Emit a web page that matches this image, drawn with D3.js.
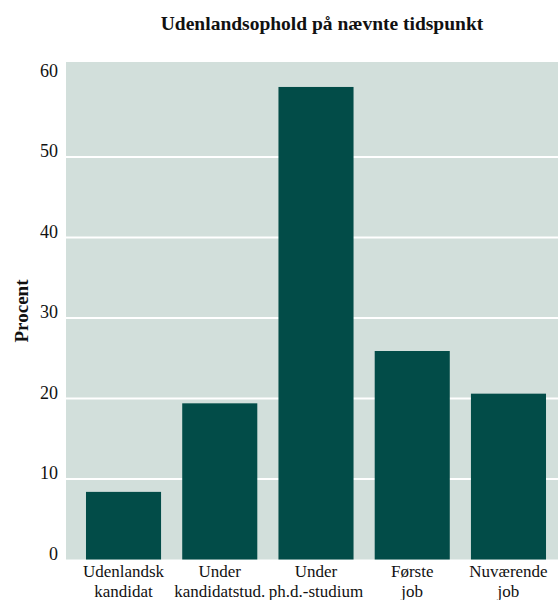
<!DOCTYPE html>
<html>
<head>
<meta charset="utf-8">
<script src="https://cdn.jsdelivr.net/npm/d3@7"></script>
<style>
  html, body { margin: 0; padding: 0; background: #fff; }
  svg { display: block; }
  text { font-family: "Liberation Serif", "Times New Roman", serif; fill: #111; }
</style>
</head>
<body>
<svg id="chart" width="558" height="600"></svg>
<script>
const title = "Udenlandsophold på nævnte tidspunkt";
const yLabel = "Procent";
const categories = [
  ["Udenlandsk", "kandidat"],
  ["Under", "kandidatstud."],
  ["Under", "ph.d.-studium"],
  ["Første", "job"],
  ["Nuværende", "job"]
];
const values = [8.4, 19.4, 58.7, 25.9, 20.6];
const yTicks = [0, 10, 20, 30, 40, 50, 60];
const gridTicks = [10, 20, 30, 40, 50];

const FONT = "'Liberation Serif', 'Times New Roman', serif";
const svg = d3.select("#chart");
const panel = { left: 66, right: 558, top: 62, bottom: 559.5 };

const x = d3.scaleBand()
  .domain(d3.range(categories.length))
  .range([75.4, 556.6])
  .paddingInner(0.22)
  .paddingOuter(0.11);

const y = d3.scaleLinear().domain([0, 61.8]).range([panel.bottom, panel.top]);

svg.append("rect")
  .attr("x", panel.left).attr("y", panel.top)
  .attr("width", panel.right - panel.left)
  .attr("height", panel.bottom - panel.top)
  .attr("fill", "#d2dfdb");

svg.append("g").selectAll("line").data(gridTicks).join("line")
  .attr("x1", panel.left).attr("x2", panel.right)
  .attr("y1", d => y(d)).attr("y2", d => y(d))
  .attr("stroke", "#ffffff").attr("stroke-width", 2);

svg.append("g").selectAll("rect").data(values).join("rect")
  .attr("x", (d, i) => x(i))
  .attr("width", x.bandwidth())
  .attr("y", d => y(d))
  .attr("height", d => y(0) - y(d))
  .attr("fill", "#024c48");

// y tick labels
const yAxis = d3.axisLeft(y).tickValues(yTicks).tickSize(0).tickPadding(0).tickFormat(d3.format("d"));
const gy = svg.append("g").attr("transform", "translate(58,-6)").call(yAxis);
gy.attr("font-family", FONT);
gy.select(".domain").remove();
gy.selectAll("text")
  .attr("font-family", FONT)
  .attr("font-size", 18).attr("fill", "#111");

// x category labels
const xl = svg.append("g").attr("font-family", FONT);
categories.forEach((lines, i) => {
  const t = xl.append("text")
    .attr("x", x(i) + x.bandwidth() / 2)
    .attr("y", 577)
    .attr("text-anchor", "middle")
    .attr("font-family", FONT)
    .attr("font-size", 17)
    .attr("fill", "#111");
  lines.forEach((ln, k) => {
    t.append("tspan")
      .attr("x", x(i) + x.bandwidth() / 2)
      .attr("dy", k === 0 ? 0 : 20)
      .attr("font-family", FONT)
      .text(ln);
  });
});

// y label
svg.append("text")
  .attr("transform", "translate(28,311) rotate(-90)")
  .attr("text-anchor", "middle")
  .attr("font-family", FONT)
  .attr("font-size", 19).attr("font-weight", "bold")
  .text(yLabel);

// title
svg.append("text")
  .attr("x", 322).attr("y", 30)
  .attr("text-anchor", "middle")
  .attr("font-family", FONT)
  .attr("font-size", 19.5).attr("font-weight", "bold")
  .text(title);
</script>
</body>
</html>
